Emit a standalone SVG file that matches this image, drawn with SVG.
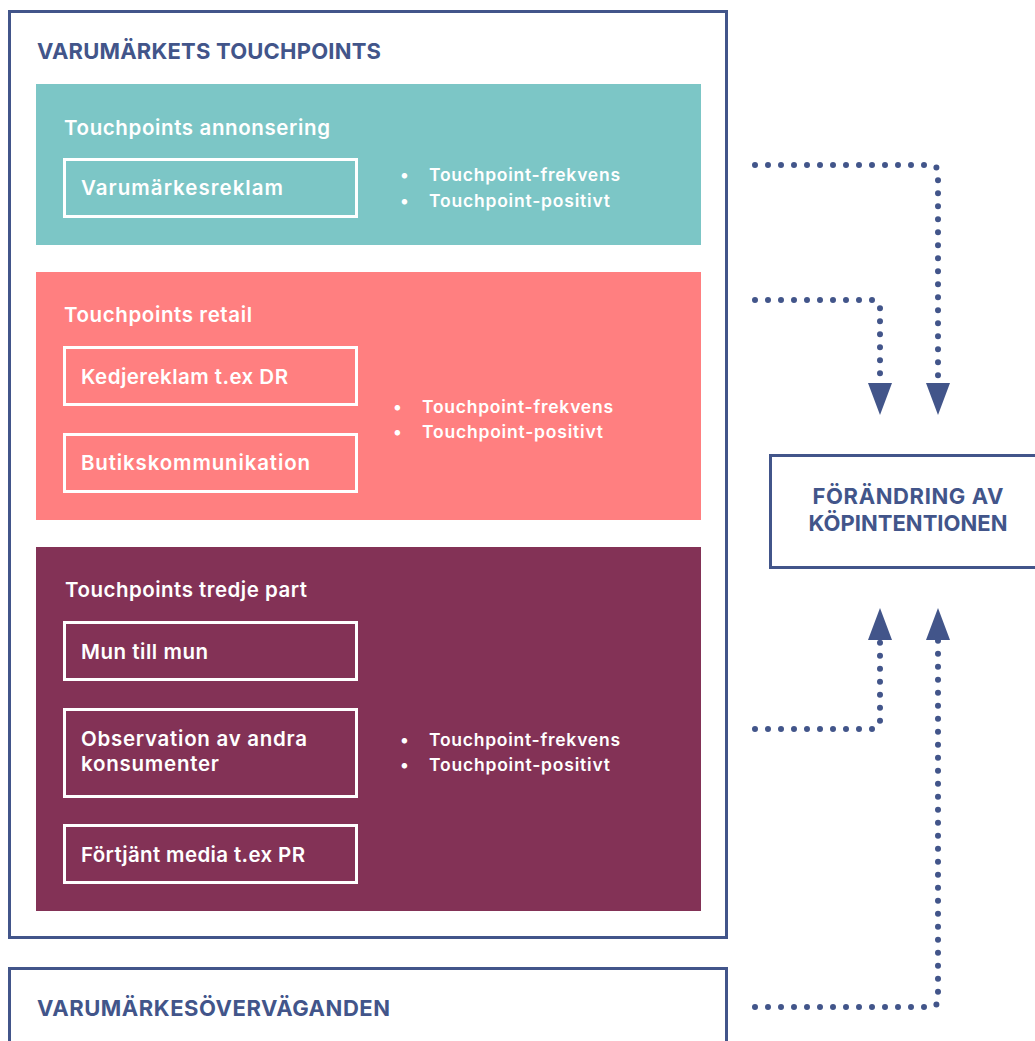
<svg xmlns="http://www.w3.org/2000/svg" width="1035" height="1041" viewBox="0 0 1035 1041">
<defs>
<style>
.frame{fill:none;stroke:#42558a;stroke-width:3}
.panel-box{fill:none;stroke:#ffffff;stroke-width:3}
.title{font-family:Inter,"Open Sans","Liberation Sans",sans-serif;font-weight:700;font-size:22px;fill:#42558a}
.head{font-family:Inter,"Open Sans","Liberation Sans",sans-serif;font-weight:600;font-size:20.5px;fill:#ffffff}
.item{font-family:Inter,"Open Sans","Liberation Sans",sans-serif;font-weight:600;font-size:20.5px;fill:#ffffff}
.bul{font-family:Inter,"Open Sans","Liberation Sans",sans-serif;font-weight:600;font-size:17.5px;fill:#ffffff}
.conn{fill:none;stroke:#42558a;stroke-width:6;stroke-linecap:round;stroke-dasharray:0 13}
</style>
<marker id="arr" viewBox="0 0 32 24" refX="0" refY="12" markerWidth="32" markerHeight="24" markerUnits="userSpaceOnUse" orient="auto">
<path d="M0,0 L32,12 L0,24 z" fill="#42558a"/>
</marker>
</defs>
<rect width="1035" height="1041" fill="#ffffff"/>

<g id="touchpoints">
<rect class="frame" x="9.5" y="11.5" width="717" height="926"/>
<text class="title" x="37" y="59" textLength="344">VARUMÄRKETS TOUCHPOINTS</text>
</g>

<g id="annonsering">
<rect x="36" y="84" width="665" height="161" fill="#7cc6c6"/>
<text class="head" x="64" y="135" textLength="266">Touchpoints annonsering</text>
<rect class="panel-box" x="64.5" y="159.5" width="292" height="57"/>
<text class="item" x="81" y="195" textLength="202">Varumärkesreklam</text>
<text class="bul" x="400" y="181">•</text>
<text class="bul" x="429" y="181" textLength="191">Touchpoint-frekvens</text>
<text class="bul" x="400" y="207">•</text>
<text class="bul" x="429" y="207" textLength="181">Touchpoint-positivt</text>
</g>

<g id="retail">
<rect x="36" y="272" width="665" height="248" fill="#ff7f80"/>
<text class="head" x="64" y="322" textLength="188">Touchpoints retail</text>
<rect class="panel-box" x="64.5" y="347.5" width="292" height="57"/>
<text class="item" x="81" y="384" textLength="207">Kedjereklam t.ex DR</text>
<rect class="panel-box" x="64.5" y="434.5" width="292" height="57"/>
<text class="item" x="81" y="470" textLength="229">Butikskommunikation</text>
<text class="bul" x="393" y="413">•</text>
<text class="bul" x="422" y="413" textLength="191">Touchpoint-frekvens</text>
<text class="bul" x="393" y="438">•</text>
<text class="bul" x="422" y="438" textLength="181">Touchpoint-positivt</text>
</g>

<g id="tredje-part">
<rect x="36" y="547" width="665" height="364" fill="#833256"/>
<text class="head" x="65" y="597" textLength="242">Touchpoints tredje part</text>
<rect class="panel-box" x="64.5" y="622.5" width="292" height="57"/>
<text class="item" x="81" y="659" textLength="127">Mun till mun</text>
<rect class="panel-box" x="64.5" y="709.5" width="292" height="87"/>
<text class="item" x="81" y="746" textLength="226">Observation av andra</text>
<text class="item" x="81" y="771" textLength="138">konsumenter</text>
<rect class="panel-box" x="64.5" y="825.5" width="292" height="57"/>
<text class="item" x="81" y="862" textLength="224">Förtjänt media t.ex PR</text>
<text class="bul" x="400" y="746">•</text>
<text class="bul" x="429" y="746" textLength="191">Touchpoint-frekvens</text>
<text class="bul" x="400" y="771">•</text>
<text class="bul" x="429" y="771" textLength="181">Touchpoint-positivt</text>
</g>

<g id="kopintention">
<rect class="frame" x="770.5" y="455.5" width="280" height="112"/>
<text class="title" x="908" y="504" text-anchor="middle" textLength="191">FÖRÄNDRING AV</text>
<text class="title" x="908" y="531" text-anchor="middle" textLength="199">KÖPINTENTIONEN</text>
</g>

<g id="overvaganden">
<rect class="frame" x="9.5" y="968.5" width="717" height="100"/>
<text class="title" x="37" y="1016" textLength="353">VARUMÄRKESÖVERVÄGANDEN</text>
</g>

<g id="connectors">
<path class="conn" d="M755,165 H930 Q938,165 938,173 V383" marker-end="url(#arr)"/>
<path class="conn" d="M755,300 H872 Q880,300 880,308 V383" marker-end="url(#arr)"/>
<path class="conn" d="M755,729 H872 Q880,729 880,721 V640" marker-end="url(#arr)"/>
<path class="conn" d="M755,1007 H930 Q938,1007 938,999 V640" marker-end="url(#arr)"/>
</g>
</svg>
